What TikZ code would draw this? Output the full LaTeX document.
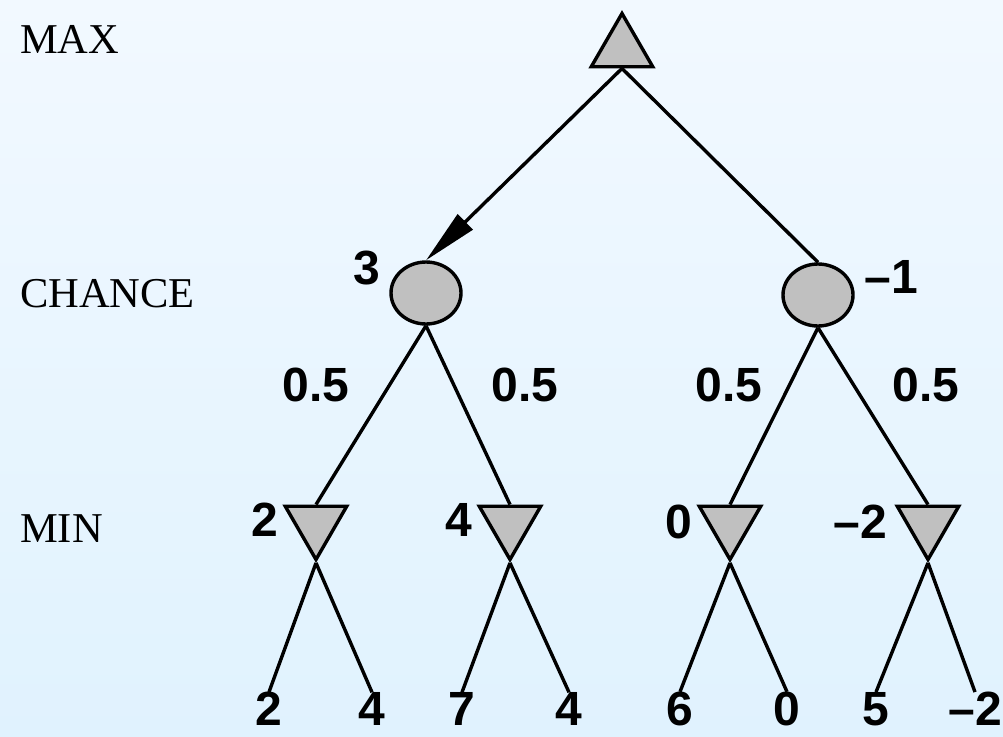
\documentclass[tikz,border=0pt]{standalone}
\usepackage{fontspec}
\setmainfont{Liberation Serif}
\setsansfont{Liberation Sans}
\usetikzlibrary{shapes.geometric,arrows.meta}
\definecolor{bgtop}{HTML}{F2F9FF}
\definecolor{bgbot}{HTML}{E0F2FE}
\definecolor{nodegray}{HTML}{C0C0C0}
\tikzset{
  maxnode/.style={regular polygon,regular polygon sides=3,draw,fill=nodegray,line width=3.4pt,minimum size=71pt,inner sep=0pt},
  minnode/.style={maxnode,shape border rotate=180},
  chancenode/.style={ellipse,draw,fill=nodegray,line width=3.4pt,minimum width=70pt,minimum height=62pt,inner sep=0pt},
  val/.style={inner sep=0pt,font=\sffamily\bfseries\fontsize{48}{50}\selectfont},
  level/.style={inner sep=0pt,anchor=base west,font=\fontsize{42.5}{44}\selectfont},
  edge/.style={line width=3.4pt},
}

\begin{document}
\begin{tikzpicture}[x=1pt,y=-1pt]
      \shade[top color=bgtop,bottom color=bgbot] (0,0) rectangle (1003,736);
      \useasboundingbox (0,0) rectangle (1003,736);

      % levels
      \node[level] (lmax) at (20,53) {MAX};
      \node[level] (lchance) at (20,307) {CHANCE};
      \node[level] (lmin) at (20,542) {MIN};

      % tree nodes
      \node[maxnode] (max) at (622,49) {};
      \node[chancenode] (c1) at (426,293) {};
      \node[chancenode] (c2) at (818,295) {};
      \node[minnode] (m1) at (316,524) {};
      \node[minnode] (m2) at (510,524) {};
      \node[minnode] (m3) at (730,524) {};
      \node[minnode] (m4) at (928,524) {};

      % values
      \node[val] (v1) at (367,268) {3};
      \node[val] (v2) at (891,277) {–1};
      \node[val] (v3) at (265,520) {2};
      \node[val] (v4) at (459,520) {4};
      \node[val] (v5) at (679,522) {0};
      \node[val] (v6) at (860,522) {–2};

      % probabilities
      \node[val] (p1) at (316,385) {0.5};
      \node[val] (p2) at (525,385) {0.5};
      \node[val] (p3) at (729,385) {0.5};
      \node[val] (p4) at (926,385) {0.5};

      % leaves
      \node[val] (l1) at (269,709) {2};
      \node[val] (l2) at (372,709) {4};
      \node[val] (l3) at (462,709) {7};
      \node[val] (l4) at (569,709) {4};
      \node[val] (l5) at (680,709) {6};
      \node[val] (l6) at (787,709) {0};
      \node[val] (l7) at (876,709) {5};
      \node[val] (l8) at (975,709) {–2};

      \draw[edge,-{Triangle[length=55pt,width=21pt]}] (max.south) -- (c1.north);
      \draw[edge] (max.south) -- (c2.north);
      \draw[edge] (c1.south) -- (m1.north);
      \draw[edge] (c1.south) -- (m2.north);
      \draw[edge] (c2.south) -- (m3.north);
      \draw[edge] (c2.south) -- (m4.north);
      \draw[edge] (m1.south) -- (l1.north);
      \draw[edge] (m1.south) -- (l2.north);
      \draw[edge] (m2.south) -- (l3.north);
      \draw[edge] (m2.south) -- (l4.north);
      \draw[edge] (m3.south) -- (l5.north);
      \draw[edge] (m3.south) -- (l6.north);
      \draw[edge] (m4.south) -- (l7.north);
      \draw[edge] (m4.south) -- (l8.north);
    \end{tikzpicture}
\end{document}
